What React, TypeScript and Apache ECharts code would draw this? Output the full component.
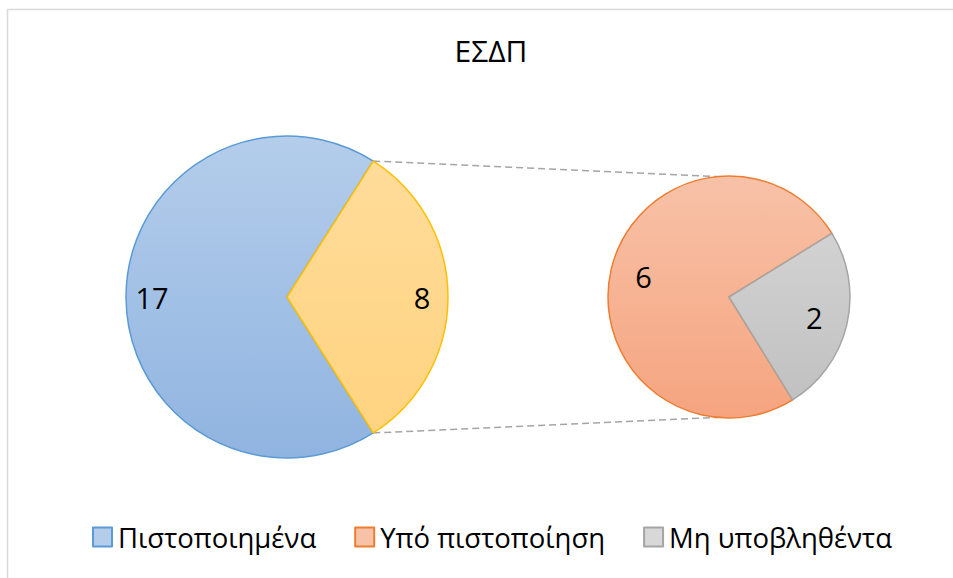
import React, { useEffect, useRef } from "react";
import * as echarts from "echarts";

const titleText = "ΕΣΔΠ";
const mainNames = ["Πιστοποιημένα", "Λοιπά"];
const mainValues = [17, 8];
const subNames = ["Υπό πιστοποίηση", "Μη υποβληθέντα"];
const subValues = [6, 2];
const legendNames = ["Πιστοποιημένα", "Υπό πιστοποίηση", "Μη υποβληθέντα"];

const FONT = "Open Sans";
const W = 953;
const H = 578;
const C1 = [287, 297];
const R1 = 161;
const C2 = [729, 297];
const R2 = 121;

const grad = (cy: number, r: number, top: string, bottom: string) =>
  new echarts.graphic.LinearGradient(0, cy - r, 0, cy + r, [
    { offset: 0, color: top },
    { offset: 1, color: bottom },
  ], true);

export default function App() {
  const ref = useRef<HTMLDivElement>(null);
  useEffect(() => {
    if (!ref.current) return;
    const chart = echarts.init(ref.current, null, { renderer: "svg" });
    const total = mainValues.reduce((a, b) => a + b, 0);
    const other = mainValues[1];
    const half = (180 * other) / total;
    const mainStart = -half;
    const subTotal = subValues.reduce((a, b) => a + b, 0);
    const grayAngle = (360 * subValues[1]) / subTotal;
    const subStartAngle = 31.7 - grayAngle;

    const rad = (d: number) => (d * Math.PI) / 180;
    const p1t = [C1[0] + R1 * Math.cos(rad(half)), C1[1] - R1 * Math.sin(rad(half))];
    const p1b = [C1[0] + R1 * Math.cos(rad(half)), C1[1] + R1 * Math.sin(rad(half))];
    const ang2 = 95.5;
    const p2t = [C2[0] + R2 * Math.cos(rad(ang2)), C2[1] - R2 * Math.sin(rad(ang2))];
    const p2b = [C2[0] + R2 * Math.cos(rad(ang2)), C2[1] + R2 * Math.sin(rad(ang2))];

    const styles: Record<string, any> = {
      "Πιστοποιημένα": { color: grad(C1[1], R1, "#b4cdeb", "#90b4e0"), borderColor: "#5b9bd5", borderWidth: 1.5 },
      "Λοιπά": { color: grad(C1[1], R1, "#ffdd9c", "#ffd27e"), borderColor: "#ffc000", borderWidth: 1.5 },
      "Υπό πιστοποίηση": { color: grad(C2[1], R2, "#f8c2a8", "#f5a47f"), borderColor: "#ed7d31", borderWidth: 1.5 },
      "Μη υποβληθέντα": { color: grad(C2[1], R2, "#d8d8d8", "#bfbfbf"), borderColor: "#a5a5a5", borderWidth: 1.5 },
    };

    const labelStyle = { fontFamily: FONT, fontSize: 29, color: "#000" };

    chart.setOption({
      animation: false,
      backgroundColor: "#fff",
      title: {
        text: titleText,
        left: 486,
        textAlign: "center",
        top: 30,
        textStyle: { fontFamily: FONT, fontSize: 30, fontWeight: "normal", color: "#000" },
      },
      legend: {
        data: legendNames,
        left: 92,
        top: 523,
        padding: 0,
        itemWidth: 19,
        itemHeight: 19,
        itemGap: 38,
        icon: "rect",
        textStyle: { fontFamily: FONT, fontSize: 27.5, color: "#000", padding: [0, 0, 0, 1] },
      },
      graphic: [
        {
          type: "rect",
          shape: { x: 7.5, y: 9.5, width: 1000, height: 1000 },
          style: { fill: "none", stroke: "#d9d9d9", lineWidth: 1.5 },
          silent: true,
        },
        {
          type: "line",
          shape: { x1: p1t[0], y1: p1t[1], x2: p2t[0], y2: p2t[1] },
          style: { stroke: "#a5a5a5", lineWidth: 1.5, lineDash: [7, 4] },
          silent: true,
        },
        {
          type: "line",
          shape: { x1: p1b[0], y1: p1b[1], x2: p2b[0], y2: p2b[1] },
          style: { stroke: "#a5a5a5", lineWidth: 1.5, lineDash: [7, 4] },
          silent: true,
        },
      ],
      series: [
        {
          type: "pie",
          center: C1,
          radius: R1,
          startAngle: mainStart,
          clockwise: true,
          label: { show: false },
          labelLine: { show: false },
          emphasis: { disabled: true },
          data: mainNames.map((n, i) => ({ name: n, value: mainValues[i], itemStyle: styles[n] })),
        },
        {
          type: "pie",
          center: C1,
          radius: [R1 * 0.64, R1],
          startAngle: mainStart,
          clockwise: true,
          silent: true,
          itemStyle: { color: "rgba(0,0,0,0)", borderWidth: 0 },
          label: { show: true, position: "inside", formatter: "{c}", ...labelStyle },
          labelLine: { show: false },
          emphasis: { disabled: true },
          legendHoverLink: false,
          data: mainNames.map((n, i) => ({ name: "_" + n, value: mainValues[i] })),
        },
        {
          type: "pie",
          center: C2,
          radius: R2,
          startAngle: subStartAngle,
          clockwise: true,
          label: { show: false },
          labelLine: { show: false },
          emphasis: { disabled: true },
          data: subNames.map((n, i) => ({ name: n, value: subValues[i], itemStyle: styles[n] })),
        },
        {
          type: "pie",
          center: C2,
          radius: [R2 * 0.4, R2],
          startAngle: subStartAngle,
          clockwise: true,
          silent: true,
          itemStyle: { color: "rgba(0,0,0,0)", borderWidth: 0 },
          label: { show: true, position: "inside", formatter: "{c}", ...labelStyle },
          labelLine: { show: false },
          emphasis: { disabled: true },
          legendHoverLink: false,
          data: subNames.map((n, i) => ({ name: "_" + n, value: subValues[i] })),
        },
      ],
    });
    return () => chart.dispose();
  }, []);
  return <div ref={ref} style={{ position: "absolute", left: 0, top: 0, width: W, height: H }} />;
}
